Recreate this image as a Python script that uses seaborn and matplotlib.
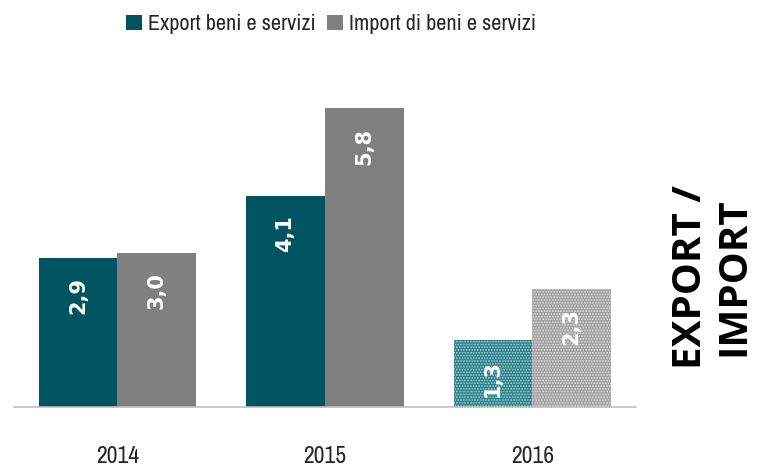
import pandas as pd
import seaborn as sns
import matplotlib.pyplot as plt
from matplotlib import font_manager

years = ["2014", "2015", "2016"]
export_vals = [2.9, 4.1, 1.3]
import_vals = [3.0, 5.8, 2.3]
series_names = ["Export beni e servizi", "Import di beni e servizi"]
value_labels_export = ["2,9", "4,1", "1,3"]
value_labels_import = ["3,0", "5,8", "2,3"]

df = pd.DataFrame({
    "anno": years * 2,
    "valore": export_vals + import_vals,
    "serie": [series_names[0]] * 3 + [series_names[1]] * 3,
})

installed = sorted({f.name for f in font_manager.fontManager.ttflist})
narrow = [n for n in installed if "Narrow" in n or "Condensed" in n]

sns.set_theme(style="white")
plt.rcParams["font.family"] = narrow[:1] + ["Lato", "DejaVu Sans"]
plt.rcParams["hatch.linewidth"] = 0.9

fig = plt.figure(figsize=(7.61, 4.69), dpi=100)
ax = fig.add_axes([0.018, 0.132, 0.818, 0.74])

colors = ["#005461", "#808080"]
sns.barplot(data=df, x="anno", y="valore", hue="serie", palette=colors,
            width=0.76, gap=0, saturation=1, ax=ax, legend=True,
            linewidth=0)

# 2016 bars are dotted (estimates)
hatch_edges = ["#a6d3d9", "#e0e0e0"]
hatch_faces = ["#2a7c87", "#9e9e9e"]
for cont, ec, fc in zip(ax.containers, hatch_edges, hatch_faces):
    bar = cont.patches[2]
    bar.set_facecolor(fc)
    bar.set_hatch("......")
    bar.set_edgecolor(ec)
    bar.set_linewidth(0)

for cont, labels in zip(ax.containers, [value_labels_export, value_labels_import]):
    for bar, lab in zip(cont.patches, labels):
        ax.text(bar.get_x() + bar.get_width() / 2, bar.get_height() - 0.38, lab,
                rotation=90, ha="center", va="top", color="white",
                fontsize=15, fontweight="bold", family=["DejaVu Sans"])

ax.set_xlim(-0.5, 2.5)
ax.set_ylim(0, 6.74)
ax.set_xlabel("")
ax.set_ylabel("")
ax.set_yticks([])
ax.tick_params(axis="x", labelsize=17, length=0, pad=28)
for s in ["top", "right", "left"]:
    ax.spines[s].set_visible(False)
ax.spines["bottom"].set_color("#bfbfbf")
ax.spines["bottom"].set_linewidth(1.2)

leg = ax.legend(loc="upper center", bbox_to_anchor=(0.51, 1.19), ncol=2,
                frameon=False, fontsize=16, handlelength=0.7, handleheight=0.7,
                handletextpad=0.3, columnspacing=0.5)

fig.text(0.936, 0.41, "EXPORT /\nIMPORT", rotation=90, ha="center", va="center",
         fontsize=29, fontweight="bold", color="black",
         family=["Open Sans", "DejaVu Sans"], linespacing=1.15)

fig.savefig("out.png", dpi=100)
